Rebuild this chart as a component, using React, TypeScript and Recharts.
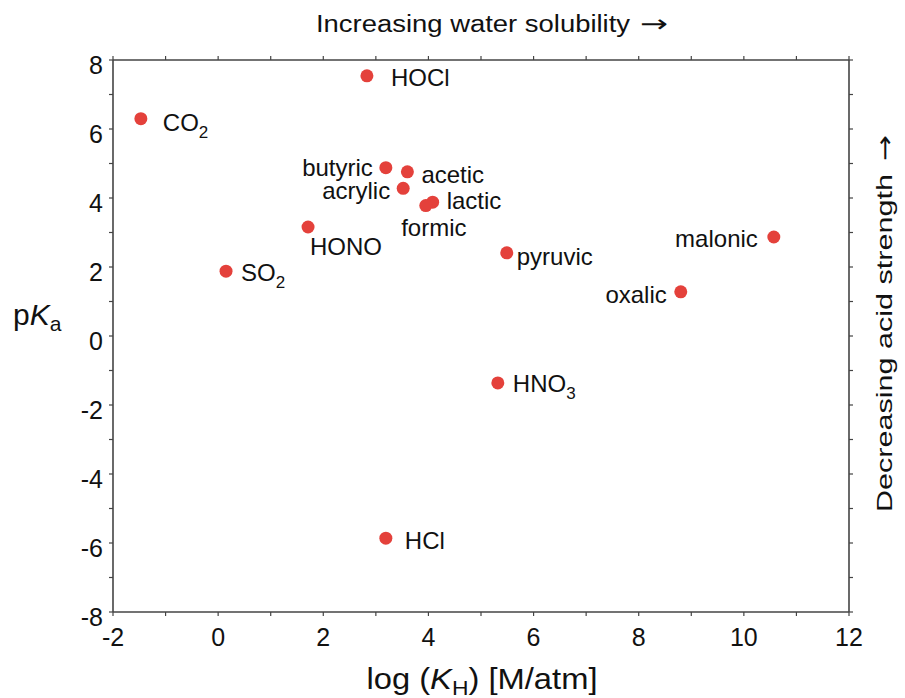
import React from 'react';
import { ScatterChart, Scatter, XAxis, YAxis, Customized } from 'recharts';

// ---- data ----
const acidNames = ['CO2', 'HOCl', 'butyric', 'acetic', 'acrylic', 'lactic', 'formic', 'HONO', 'SO2', 'pyruvic', 'malonic', 'oxalic', 'HNO3', 'HCl'];
const labelMain = ['CO', 'HOCl', 'butyric', 'acetic', 'acrylic', 'lactic', 'formic', 'HONO', 'SO', 'pyruvic', 'malonic', 'oxalic', 'HNO', 'HCl'];
const labelSub = ['2', '', '', '', '', '', '', '', '2', '', '', '', '3', ''];
const logKH = [-1.47, 2.83, 3.19, 3.6, 3.52, 4.08, 3.95, 1.71, 0.15, 5.49, 10.57, 8.8, 5.32, 3.19];
const pKa = [6.3, 7.54, 4.88, 4.76, 4.28, 3.88, 3.78, 3.16, 1.88, 2.41, 2.87, 1.28, -1.36, -5.86];
const xTicks = [-2, -1, 0, 1, 2, 3, 4, 5, 6, 7, 8, 9, 10, 11, 12];
const yTicks = [-8, -7, -6, -5, -4, -3, -2, -1, 0, 1, 2, 3, 4, 5, 6, 7, 8];
const xTickLabels = ['-2', '', '0', '', '2', '', '4', '', '6', '', '8', '', '10', '', '12'];
const yTickLabels = ['-8', '', '-6', '', '-4', '', '-2', '', '0', '', '2', '', '4', '', '6', '', '8'];

// ---- label placement (layout) ----
const placement: Record<string, { anchor: 'start' | 'middle' | 'end'; dx: number; dy: number }> = {
  CO2: { anchor: 'start', dx: 22, dy: 12 },
  HOCl: { anchor: 'start', dx: 24, dy: 10 },
  butyric: { anchor: 'end', dx: -13, dy: 8 },
  acetic: { anchor: 'start', dx: 14, dy: 11 },
  acrylic: { anchor: 'end', dx: -13, dy: 11 },
  lactic: { anchor: 'start', dx: 14, dy: 7 },
  formic: { anchor: 'middle', dx: 8, dy: 30 },
  HONO: { anchor: 'start', dx: 2, dy: 28 },
  SO2: { anchor: 'start', dx: 15, dy: 10 },
  pyruvic: { anchor: 'start', dx: 10, dy: 12 },
  malonic: { anchor: 'end', dx: -16, dy: 10 },
  oxalic: { anchor: 'end', dx: -14, dy: 11 },
  HNO3: { anchor: 'start', dx: 15, dy: 9 },
  HCl: { anchor: 'start', dx: 19, dy: 11 },
};

const FONT = '"Liberation Sans", Arial, Helvetica, sans-serif';
const ARROW_FONT = '"DejaVu Sans", sans-serif';
const AXIS = '#444';
const DOT = '#e4413b';

const data = acidNames.map((n, i) => ({ name: n, main: labelMain[i], sub: labelSub[i], x: logKH[i], y: pKa[i] }));

const PointShape = (props: any) => {
  const { cx, cy, payload } = props;
  const p = placement[payload.name];
  return (
    <g>
      <circle cx={cx} cy={cy} r={6.5} fill={DOT} />
      <text x={cx + p.dx} y={cy + p.dy} textAnchor={p.anchor} fontSize={24} fontFamily={FONT} fill="#111">
        {payload.main}
        {payload.sub ? <tspan dy={7} fontSize={17}>{payload.sub}</tspan> : null}
      </text>
    </g>
  );
};

const XTick = (props: any) => {
  const { x, y, payload } = props;
  const idx = xTicks.indexOf(payload.value);
  const label = xTickLabels[idx];
  if (!label) return <g />;
  return (
    <text x={x} y={y + 28} textAnchor="middle" fontSize={25} fontFamily={FONT} fill="#111">{label}</text>
  );
};

const YTick = (props: any) => {
  const { x, y, payload } = props;
  const idx = yTicks.indexOf(payload.value);
  const label = yTickLabels[idx];
  if (!label) return <g />;
  return (
    <text x={x - 4} y={y + 14} textAnchor="end" fontSize={25} fontFamily={FONT} fill="#111">{label}</text>
  );
};

const Empty = () => <g />;

const Titles = () => (
  <g fontFamily={FONT} fill="#111">
    <text x={316} y={32} textAnchor="start" fontSize={23} textLength={314} lengthAdjust="spacingAndGlyphs">
      Increasing water solubility
    </text>
    <text x={640} y={32} textAnchor="start" fontSize={24} fontFamily={ARROW_FONT} textLength={28} lengthAdjust="spacingAndGlyphs">→</text>
    <text x={482} y={689} textAnchor="middle" fontSize={30} textLength={231} lengthAdjust="spacingAndGlyphs">
      log (<tspan fontStyle="italic">K</tspan><tspan dy={6} fontSize={21}>H</tspan><tspan dy={-6}>) [M/atm]</tspan>
    </text>
    <text x={13} y={325} textAnchor="start" fontSize={30}>
      p<tspan fontStyle="italic">K</tspan><tspan dy={6} fontSize={21}>a</tspan>
    </text>
    <text transform="translate(892,512) rotate(-90)" x={0} y={0} textAnchor="start" fontSize={22} textLength={338} lengthAdjust="spacingAndGlyphs">
      Decreasing acid strength
    </text>
    <text transform="translate(893,161) rotate(-90)" x={0} y={0} textAnchor="start" fontSize={24} fontFamily={ARROW_FONT} textLength={26} lengthAdjust="spacingAndGlyphs">→</text>
  </g>
);

export default function App() {
  return (
    <div style={{ position: 'absolute', left: 0, top: 0, width: 905, height: 698, background: '#fff' }}>
      <ScatterChart width={905} height={698} margin={{ top: 0, right: 0, bottom: 0, left: 0 }}>
        <XAxis xAxisId="b" orientation="bottom" type="number" dataKey="x" domain={[-2, 12]} ticks={xTicks}
          allowDataOverflow height={86} tick={<XTick />} tickSize={4} interval={0}
          axisLine={{ stroke: AXIS, strokeWidth: 1.6 }} tickLine={{ stroke: AXIS, strokeWidth: 1.2 }} />
        <XAxis xAxisId="t" orientation="top" type="number" dataKey="x" domain={[-2, 12]} ticks={xTicks}
          allowDataOverflow height={60} tick={<Empty />} tickSize={4} interval={0}
          axisLine={{ stroke: AXIS, strokeWidth: 1.6 }} tickLine={{ stroke: AXIS, strokeWidth: 1.2 }} />
        <YAxis yAxisId="l" orientation="left" type="number" dataKey="y" domain={[-8, 8]} ticks={yTicks}
          allowDataOverflow width={113} tick={<YTick />} tickSize={4} interval={0}
          axisLine={{ stroke: AXIS, strokeWidth: 1.6 }} tickLine={{ stroke: AXIS, strokeWidth: 1.2 }} />
        <YAxis yAxisId="r" orientation="right" type="number" dataKey="y" domain={[-8, 8]} ticks={yTicks}
          allowDataOverflow width={56} tick={<Empty />} tickSize={4} interval={0}
          axisLine={{ stroke: AXIS, strokeWidth: 1.6 }} tickLine={{ stroke: AXIS, strokeWidth: 1.2 }} />
        <Scatter xAxisId="b" yAxisId="l" data={data} shape={<PointShape />} isAnimationActive={false} />
        <Customized component={Titles} />
      </ScatterChart>
    </div>
  );
}
